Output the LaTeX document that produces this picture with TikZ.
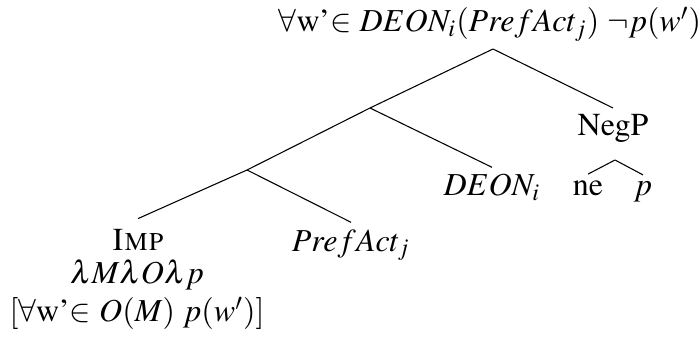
\documentclass[tikz,border=0pt,12pt]{standalone}
\usepackage[T1]{fontenc}
\usepackage{mathptmx}
\usetikzlibrary{positioning}

\begin{document}
\begin{tikzpicture}[
x=0.375pt, y=-0.375pt,
word/.style={anchor=base, inner xsep=0pt, inner ysep=2.5pt},
gloss/.style={word, inner ysep=0pt},
branch/.style={line width=0.4pt}
]
\useasboundingbox (0,0) rectangle (700,342);

% labels
\node[word] (root) at (490,32) {$\forall$w'$\in$ $DEON_i(PrefAct_j)$ $\neg p(w')$};
\node[word] (negp) at (613,136) {NegP};
\node[word] (deon) at (492,196) {$DEON_i$};
\node[word] (ne) at (588,196) {ne};
\node[word] (p) at (643,196) {$p$};
\node[word] (pref) at (351,251) {$PrefAct_j$};
\node[gloss] (imp) at (138,250) {\textsc{Imp}};
\node[gloss] (lam) at (137,283) {$\lambda M\lambda O\lambda p$};
\node[gloss] (den) at (137,322) {$[\forall$w'$\in$ $O(M)$ $p(w')]$};

% branching points
\coordinate (top) at (493,49);
\coordinate (mid) at (370,108);
\coordinate (low) at (247,170);
\coordinate (negpt) at (615,160);
\coordinate[above=3.5pt of imp.north] (imptop);

\draw[branch] (top) -- (mid);
\draw[branch] (top) -- (negp.north);
\draw[branch] (mid) -- (low);
\draw[branch] (mid) -- (deon.north);
\draw[branch] (low) -- (imptop);
\draw[branch] (low) -- (pref.north);
\draw[branch] (negpt) -- (ne.north);
\draw[branch] (negpt) -- (p.north);
\end{tikzpicture}
\end{document}
